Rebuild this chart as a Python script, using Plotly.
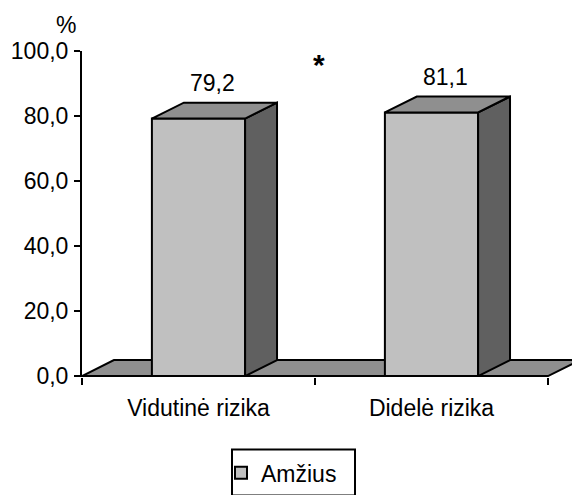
import plotly.graph_objects as go

# Chart data
categories = ["Vidutinė rizika", "Didelė rizika"]
values = [79.2, 81.1]
series_name = "Amžius"
y_ticks = [0, 20, 40, 60, 80, 100]

# Styling for the pseudo-3D columns
FRONT = "#c0c0c0"
TOP = "#8f8f8f"
SIDE = "#606060"
FLOOR = "#8f8f8f"
EDGE = "black"
BAR_W = 0.4      # column width in category units
DX = 0.137       # depth offset along x (category units)
DY = 4.9         # depth offset along y (value units)
FONT = "Arial, Liberation Sans, sans-serif"
FS = 23

xs = list(range(len(categories)))
x_lo, x_hi = -0.5, len(categories) - 0.5

fig = go.Figure()

# Front faces of the columns
fig.add_trace(go.Bar(
    x=xs, y=values, width=BAR_W, name=series_name,
    marker=dict(color=FRONT, line=dict(color=EDGE, width=2)),
    hoverinfo="skip", showlegend=True,
))

# Side and top faces built from each value
for x, v in zip(xs, values):
    l, r = x - BAR_W / 2, x + BAR_W / 2
    fig.add_trace(go.Scatter(
        x=[r, r + DX, r + DX, r, r], y=[0, DY, v + DY, v, 0],
        fill="toself", fillcolor=SIDE, mode="lines",
        line=dict(color=EDGE, width=2), showlegend=False, hoverinfo="skip",
    ))
    fig.add_trace(go.Scatter(
        x=[l, l + DX, r + DX, r, l], y=[v, v + DY, v + DY, v, v],
        fill="toself", fillcolor=TOP, mode="lines",
        line=dict(color=EDGE, width=2), showlegend=False, hoverinfo="skip",
    ))

# Value labels above the columns
for x, v in zip(xs, values):
    fig.add_annotation(
        x=x + 0.06, y=v + DY + 6, xref="x", yref="y",
        text=f"{v:.1f}".replace(".", ","), showarrow=False,
        font=dict(family=FONT, size=FS, color="black"),
        xanchor="center", yanchor="middle",
    )

# Significance marker between the groups
fig.add_annotation(
    x=(xs[0] + xs[-1]) / 2, y=96.0, xref="x", yref="y", xshift=4,
    text="<b>*</b>", showarrow=False,
    font=dict(family=FONT, size=30, color="black"),
    xanchor="center", yanchor="middle",
)

# Axis unit
fig.add_annotation(
    x=-0.0327, y=1.081, xref="paper", yref="paper",
    text="%", showarrow=False,
    font=dict(family=FONT, size=FS, color="black"),
    xanchor="center", yanchor="middle",
)

# Floor of the 3D plot
floor_path = (
    f"M {x_lo},0 L {x_lo + DX},{DY} L {x_hi + DX},{DY} L {x_hi},0 Z"
)
fig.add_shape(
    type="path", path=floor_path, xref="x", yref="y",
    fillcolor=FLOOR, line=dict(color=EDGE, width=2), layer="below",
)

# Legend frame
fig.add_shape(
    type="rect", xref="paper", yref="paper",
    x0=(232 - 82) / 490, x1=(355 - 82) / 490,
    y0=(384 - 458) / 333, y1=(384 - 505) / 333,
    line=dict(color=EDGE, width=2), fillcolor="rgba(0,0,0,0)",
)

fig.update_layout(
    width=572, height=495,
    margin=dict(l=82, r=0, t=51, b=111),
    paper_bgcolor="white", plot_bgcolor="white",
    separators=",.",
    font=dict(family=FONT, size=FS, color="black"),
    showlegend=True,
    legend=dict(
        x=(221 - 82) / 490, xanchor="left", y=(384 - 460) / 333, yanchor="top",
        borderwidth=0, bgcolor="rgba(0,0,0,0)",
        font=dict(family=FONT, size=FS, color="black"),
        itemwidth=30,
    ),
    xaxis=dict(
        range=[x_lo, x_hi + 0.103],
        tickvals=xs, ticktext=categories, ticks="",
        showline=False, showgrid=False, zeroline=False,
        tickfont=dict(family=FONT, size=FS, color="black"),
        ticklabelstandoff=15,
        minor=dict(
            tickvals=[x_lo + i for i in range(len(categories) + 1)],
            ticks="outside", ticklen=7, tickwidth=2, tickcolor=EDGE,
            showgrid=False,
        ),
        fixedrange=True,
    ),
    yaxis=dict(
        range=[-0.3, 100],
        tickvals=y_ticks, tickformat=".1f",
        ticks="outside", ticklen=6, tickwidth=2, tickcolor=EDGE,
        showline=True, linewidth=2, linecolor=EDGE,
        showgrid=False, zeroline=False,
        tickfont=dict(family=FONT, size=FS, color="black"),
        ticklabelstandoff=1,
        fixedrange=True,
    ),
)

fig.write_html("out.html")
